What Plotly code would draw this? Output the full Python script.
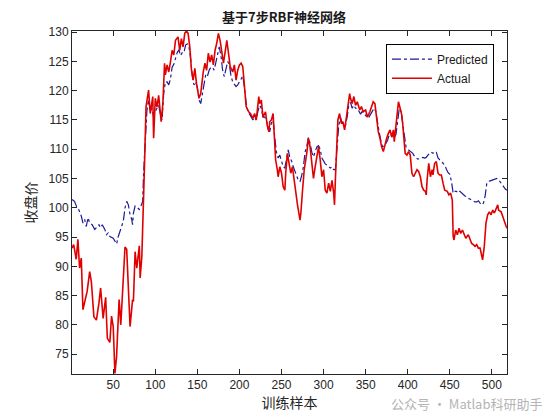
import plotly.graph_objects as go

# ---- data ----
actual_x = [1, 3, 6, 8, 10, 12, 14, 16, 19, 22, 24, 27, 30, 33, 35, 38, 41, 43, 46, 48, 50, 52, 54, 55, 57, 59, 61, 64, 66, 68,
            70, 73, 74, 76, 78, 81, 82, 84, 86, 87, 89, 92, 94, 97, 98, 100, 102, 104, 107, 109, 111, 112, 114, 116, 118, 120,
            122, 124, 127, 129, 131, 133, 135, 137, 139, 141, 143, 145, 147, 149, 152, 154, 157, 159, 161, 163, 165, 167, 169,
            171, 173, 175, 177, 179, 181, 183, 185, 187, 189, 192, 194, 196, 198, 200, 202, 204, 207, 208, 211, 213, 216, 218,
            220, 223, 224, 226, 228, 231, 233, 235, 236, 238, 240, 242, 243, 245, 246, 248, 250, 252, 254, 255, 257, 259, 261,
            263, 265, 267, 269, 272, 273, 275, 277, 280, 282, 284, 286, 288, 290, 292, 294, 296, 298, 300, 302, 304, 306, 308,
            310, 312, 313, 314, 316, 317, 319, 321, 323, 325, 327, 329, 331, 332, 334, 336, 338, 340, 343, 345, 347, 350, 352,
            355, 357, 359, 361, 363, 365, 367, 369, 371, 373, 375, 377, 379, 381, 383, 384, 386, 388, 389, 391, 393, 394, 396,
            397, 399, 401, 403, 405, 407, 409, 411, 413, 415, 417, 419, 421, 422, 423, 425, 427, 429, 430, 432, 434, 436, 438,
            440, 442, 444, 447, 449, 451, 453, 454, 455, 457, 459, 461, 463, 465, 467, 469, 472, 474, 476, 478, 480, 482, 484,
            486, 488, 489, 491, 493, 495, 497, 499, 501, 503, 505, 507, 508, 511, 513, 515, 517, 518]
actual_y = [93.1, 93.7, 91.2, 94.6, 89.7, 91.4, 82.6, 83.7, 85.7, 89.1, 87.4, 81.4, 80.8, 83.7, 86.3, 81.1, 84.7, 77.7, 77.0,
            81.5, 79.7, 71.7, 74.6, 78.0, 84.3, 80.0, 86.0, 93.3, 92.9, 86.5, 79.7, 84.3, 84.0, 92.5, 89.7, 93.5, 88.0, 91.7,
            99.6, 106.4, 117.3, 120.1, 116.1, 119.0, 111.9, 118.7, 117.2, 119.2, 114.7, 117.8, 124.7, 122.7, 124.4, 123.2,
            124.9, 126.9, 126.1, 128.6, 129.2, 126.9, 128.9, 127.5, 129.8, 130.2, 129.8, 127.5, 123.5, 121.8, 123.8, 121.2,
            118.7, 119.5, 123.2, 124.7, 123.5, 126.4, 124.9, 126.1, 124.4, 126.9, 128.1, 129.8, 128.6, 126.1, 124.7, 126.6,
            128.6, 126.4, 124.1, 123.2, 124.4, 121.8, 123.5, 124.4, 124.7, 124.1, 119.0, 117.3, 116.4, 116.1, 115.3, 116.1,
            115.0, 119.0, 117.8, 118.4, 115.5, 116.4, 114.1, 113.0, 114.7, 115.0, 116.1, 111.0, 108.2, 106.5, 105.3, 107.0,
            105.9, 103.6, 103.0, 105.9, 109.3, 107.6, 105.9, 107.0, 104.5, 102.0, 100.5, 97.9, 99.1, 103.0, 106.5, 109.3,
            111.9, 110.4, 107.6, 105.0, 107.0, 108.7, 110.4, 108.2, 105.3, 106.5, 103.0, 102.5, 104.2, 102.8, 104.7, 102.5,
            100.5, 104.7, 112.1, 115.0, 116.1, 114.4, 114.7, 113.3, 115.3, 117.3, 119.5, 118.7, 117.8, 119.0, 117.5, 118.1,
            116.7, 117.3, 116.4, 116.7, 115.5, 116.4, 117.3, 118.1, 117.8, 115.5, 113.0, 111.9, 110.4, 109.6, 111.0, 111.9,
            112.7, 113.3, 112.1, 113.3, 111.3, 113.8, 116.4, 118.1, 117.0, 115.8, 114.4, 111.6, 109.3, 109.0, 109.6, 109.0,
            105.9, 105.3, 105.9, 106.5, 106.2, 105.3, 103.6, 103.0, 102.8, 102.2, 104.7, 107.6, 105.3, 106.5, 105.6, 107.6,
            107.9, 105.9, 105.6, 105.6, 104.2, 103.0, 102.8, 102.2, 102.5, 101.3, 95.1, 94.5, 96.2, 95.4, 96.5, 95.6, 96.2,
            95.4, 94.8, 95.4, 94.5, 93.9, 93.7, 93.4, 93.7, 93.1, 93.1, 91.7, 91.1, 93.4, 97.4, 98.8, 99.3, 98.8, 99.6, 99.1,
            99.9, 100.5, 99.6, 99.3, 98.5, 97.4, 96.8, 96.5]

pred_x = [1, 4, 7, 9, 12, 14, 16, 18, 20, 22, 25, 28, 30, 33, 35, 37, 40, 42, 44, 46, 50, 52, 54, 56, 58, 60, 62, 64, 66, 68,
          70, 72, 73, 74, 76, 79, 81, 83, 85, 86, 88, 90, 92, 94, 96, 98, 100, 102, 104, 106, 108, 110, 112, 114, 116, 118,
          120, 122, 124, 126, 128, 130, 132, 134, 136, 138, 140, 142, 144, 146, 148, 150, 152, 154, 156, 158, 160, 162, 164,
          166, 168, 170, 172, 174, 176, 178, 180, 182, 184, 186, 188, 190, 192, 194, 196, 198, 200, 202, 204, 206, 208, 210,
          212, 214, 216, 218, 220, 222, 224, 226, 228, 230, 232, 234, 236, 238, 240, 242, 244, 246, 248, 250, 252, 254, 256,
          258, 260, 262, 264, 266, 268, 270, 272, 274, 276, 278, 280, 282, 284, 286, 288, 290, 292, 294, 296, 298, 300, 302,
          304, 306, 308, 310, 312, 314, 316, 318, 320, 322, 324, 326, 328, 330, 332, 334, 336, 338, 340, 342, 344, 346, 348,
          350, 352, 354, 356, 358, 360, 362, 364, 366, 368, 370, 372, 374, 376, 378, 380, 382, 384, 386, 388, 390, 392, 394,
          396, 398, 400, 402, 404, 406, 408, 410, 412, 414, 416, 418, 420, 422, 424, 426, 428, 430, 432, 434, 436, 438, 440,
          442, 444, 446, 448, 450, 452, 454, 456, 458, 460, 462, 464, 466, 468, 470, 472, 474, 476, 478, 480, 482, 484, 486,
          488, 490, 492, 494, 496, 498, 500, 502, 504, 506, 508, 510, 512, 514, 516, 518]
pred_y = [101.4, 101.1, 100.0, 99.7, 98.6, 97.4, 98.0, 96.8, 98.3, 97.4, 97.1, 96.3, 96.6, 97.1, 96.6, 97.1, 96.3, 95.4, 95.7,
          95.1, 94.8, 94.3, 93.8, 95.1, 96.0, 96.6, 97.7, 100.0, 101.1, 100.5, 98.8, 98.0, 97.1, 99.1, 100.3, 100.0, 99.7,
          100.3, 101.1, 105.6, 112.0, 116.5, 118.5, 116.5, 117.0, 115.5, 116.5, 117.0, 117.5, 116.0, 115.0, 119.5, 121.5,
          121.5, 121.0, 122.0, 124.0, 124.5, 125.5, 126.5, 127.0, 126.0, 126.5, 126.5, 127.8, 128.0, 127.5, 125.5, 122.5,
          121.0, 121.5, 120.5, 118.4, 117.8, 119.5, 121.5, 122.8, 122.5, 123.5, 124.0, 124.0, 123.5, 125.0, 126.5, 127.5,
          126.0, 123.5, 122.4, 124.0, 125.0, 124.5, 122.5, 121.5, 121.0, 120.7, 121.0, 121.5, 122.0, 122.5, 120.5, 117.8,
          116.5, 116.0, 115.5, 115.0, 115.5, 115.0, 116.5, 117.5, 117.0, 115.5, 115.5, 115.0, 113.5, 113.0, 114.5, 115.0,
          112.0, 109.5, 108.5, 109.0, 108.0, 107.0, 106.8, 108.5, 109.9, 108.5, 108.0, 107.0, 106.2, 105.5, 104.7, 104.5,
          105.5, 107.0, 109.5, 110.5, 112.0, 111.0, 109.5, 108.7, 109.5, 110.4, 110.6, 110.0, 108.5, 108.0, 107.5, 107.3,
          107.0, 106.8, 107.0, 106.5, 106.5, 110.5, 114.0, 115.5, 114.5, 114.0, 114.0, 115.5, 117.5, 118.0, 117.0, 117.5,
          117.0, 117.0, 116.5, 116.0, 116.5, 116.0, 115.8, 115.3, 115.5, 116.0, 116.5, 117.0, 116.5, 114.5, 113.0, 111.5,
          110.5, 110.5, 111.0, 111.5, 112.5, 112.5, 112.0, 112.0, 112.5, 115.0, 117.0, 116.5, 114.5, 112.4, 110.4, 110.0,
          109.8, 109.5, 109.3, 108.8, 108.5, 108.3, 108.4, 108.5, 108.6, 108.5, 108.6, 109.0, 109.3, 109.5, 109.3, 109.6,
          109.5, 108.5, 108.2, 108.0, 107.6, 107.3, 106.6, 106.0, 105.7, 104.5, 102.5, 102.8, 102.8, 102.5, 102.8, 102.5,
          102.3, 102.0, 101.9, 101.6, 101.5, 101.3, 101.2, 101.0, 101.0, 101.2, 100.8, 100.5, 100.8, 102.0, 104.2, 104.5,
          104.6, 104.7, 104.8, 105.0, 105.0, 104.8, 104.4, 103.9, 103.6, 103.2, 103.0]

x_ticks = [50, 100, 150, 200, 250, 300, 350, 400, 450, 500]
y_ticks = [75, 80, 85, 90, 95, 100, 105, 110, 115, 120, 125, 130]

title_text = "基于7步RBF神经网络"
x_label = "训练样本"
y_label = "收盘价"
watermark = "公众号 · Matlab科研助手"

fig = go.Figure()
fig.add_trace(go.Scatter(x=pred_x, y=pred_y, mode="lines", name="Predicted",
                         line=dict(color="#1a1a9a", width=1.2, dash="dashdot")))
fig.add_trace(go.Scatter(x=actual_x, y=actual_y, mode="lines", name="Actual",
                         line=dict(color="#e00000", width=1.6)))

axis_font = dict(family="Liberation Sans, Arial, sans-serif", size=12, color="#262626")
cjk = "Noto Sans CJK SC, sans-serif"

# page body adds an 8px offset, so the figure is 552x412 and margins are reduced by 8px
fig.update_layout(
    width=552, height=412,
    paper_bgcolor="white", plot_bgcolor="white",
    margin=dict(l=64, r=53, t=23, b=46),
    showlegend=True,
    legend=dict(x=0.970, y=0.963, xanchor="right", yanchor="top",
                bgcolor="white", bordercolor="black", borderwidth=1,
                font=dict(family="Liberation Sans, Arial, sans-serif", size=12, color="#1a1a1a"),
                tracegroupgap=0, itemwidth=40),
    title=dict(text="<b>" + title_text + "</b>", x=0.5, xanchor="center", y=0.976, yanchor="middle",
               font=dict(family=cjk, size=13, color="#1a1a1a")),
    xaxis=dict(range=[1, 518], tickvals=x_ticks, ticks="inside", ticklen=5, tickcolor="#262626",
               showline=True, linecolor="#262626", linewidth=1, mirror="allticks",
               showgrid=False, zeroline=False, tickfont=axis_font,
               title=dict(text=x_label, font=dict(family=cjk, size=14, color="#262626"), standoff=4)),
    yaxis=dict(range=[71.6, 130.2], tickvals=y_ticks, ticks="inside", ticklen=5, tickcolor="#262626",
               showline=True, linecolor="#262626", linewidth=1, mirror="allticks",
               showgrid=False, zeroline=False, tickfont=axis_font,
               title=dict(text=y_label, font=dict(family=cjk, size=14, color="#262626"), standoff=8)),
)

fig.add_annotation(text=watermark, xref="paper", yref="paper", x=1.085, y=-0.085,
                   xanchor="right", yanchor="middle", showarrow=False,
                   font=dict(family=cjk, size=13, color="#b4b4b4"))

fig.write_html("out.html")
